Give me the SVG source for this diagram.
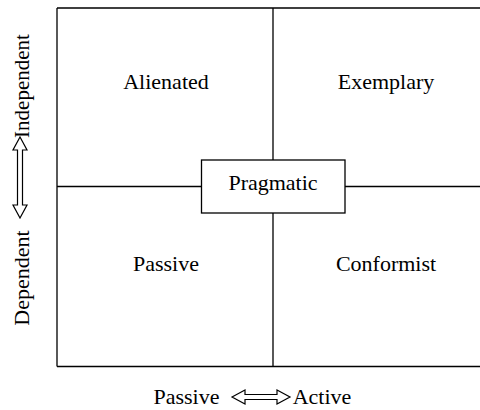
<svg xmlns="http://www.w3.org/2000/svg" width="480" height="410" viewBox="0 0 480 410">
<style>
.ln{stroke:#000;stroke-width:1.3;fill:none}
.t{font-family:'Liberation Serif','Times New Roman',serif;font-size:22px;fill:#000;text-anchor:middle}
.ar{fill:#fff;stroke:#000;stroke-width:1.2}
</style>
<rect width="480" height="410" fill="#fff"/>
<g id="connectors">
<path class="ln" d="M57,8 H481 M57,366.5 H481 M57,8 V366.5 M273,8 V160 M273,213 V366.5 M57,186.5 H201 M345,186.5 H481"/>
</g>
<g id="alienated"><text class="t" x="166" y="89">Alienated</text></g>
<g id="exemplary"><text class="t" x="386" y="89">Exemplary</text></g>
<g id="passive"><text class="t" x="166" y="271">Passive</text></g>
<g id="conformist"><text class="t" x="386" y="271">Conformist</text></g>
<g id="pragmatic"><rect x="201.5" y="160" width="143.5" height="53" fill="#fff" stroke="#000" stroke-width="1.3"/><text class="t" x="273" y="190">Pragmatic</text></g>
<g id="x-axis">
<text class="t" x="186.5" y="404">Passive</text>
<path class="ar" d="M232,397 L245,390 V394.5 H277 V390 L290,397 L277,404 V399.5 H245 V404 Z"/>
<text class="t" x="322" y="404">Active</text>
</g>
<g id="y-axis">
<text class="t" style="font-size:21px" transform="translate(29,86) rotate(-90)">Independent</text>
<path class="ar" d="M20,137 L27,150 H22.5 V205 H27 L20,218 L13,205 H17.5 V150 H13 Z"/>
<text class="t" transform="translate(29,278) rotate(-90)">Dependent</text>
</g>
</svg>
